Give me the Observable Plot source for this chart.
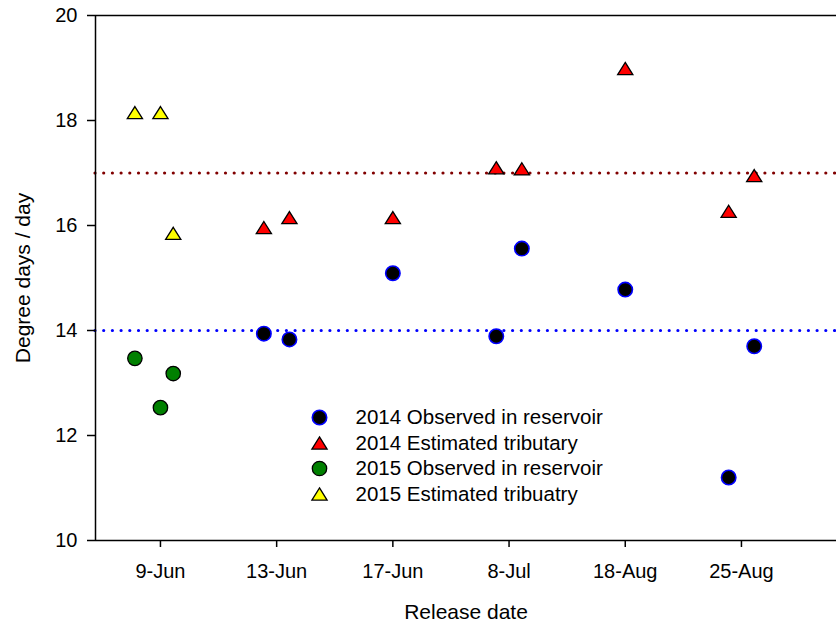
<!DOCTYPE html>
<html>
<head>
<meta charset="utf-8">
<script src="https://cdn.jsdelivr.net/npm/d3@7"></script>
<script src="https://cdn.jsdelivr.net/npm/@observablehq/plot@0.6"></script>
<style>
  html, body { margin: 0; padding: 0; background: #fff; }
  #chart svg { display: block; }
</style>
</head>
<body>
<div id="chart"></div>
<script>
// Release dates (category axis positions 1..6)
const categories = ["9-Jun", "13-Jun", "17-Jun", "8-Jul", "18-Aug", "25-Aug"];
const categoryTicks = [1, 2, 3, 4, 5, 6];
const yTicks = [10, 12, 14, 16, 18, 20];

// 2014 releases: observed in reservoir / estimated tributary (degree days per day)
const pos2014 = [1.89, 2.11, 3, 3.89, 4.11, 5, 5.89, 6.11];
const obs2014 = [13.94, 13.83, 15.09, 13.89, 15.56, 14.78, 11.2, 13.70];
const est2014 = [15.96, 16.15, 16.15, 17.10, 17.08, 18.99, 16.27, 16.95];

// 2015 releases
const pos2015 = [0.78, 1, 1.11];
const obs2015 = [13.47, 12.53, 13.18];
const est2015 = [18.15, 18.15, 15.85];

// Reference levels
const upperRef = [17];
const lowerRef = [14];

const legendLabels = [
  "2014 Observed in reservoir",
  "2014 Estimated tributary",
  "2015 Observed in reservoir",
  "2015 Estimated tribuatry"
];

const font = "'Liberation Sans', Arial, Helvetica, sans-serif";

// Triangle centred on its bounding box
const triangle = {
  draw(context, size) {
    const r = Math.sqrt(size / Math.PI);
    const h = r * 1.6;
    context.moveTo(0, -h / 2);
    context.lineTo(r, h / 2);
    context.lineTo(-r, h / 2);
    context.closePath();
  }
};

const series = [
  {label: legendLabels[0], xs: pos2014, ys: obs2014, symbol: "circle", fill: "#000000", stroke: "#0000ff", strokeWidth: 1.6, r: 7.2},
  {label: legendLabels[1], xs: pos2014, ys: est2014, symbol: triangle, fill: "#ff0000", stroke: "#000000", strokeWidth: 1.3, r: 7.6},
  {label: legendLabels[2], xs: pos2015, ys: obs2015, symbol: "circle", fill: "#008000", stroke: "#000000", strokeWidth: 1.3, r: 7.2},
  {label: legendLabels[3], xs: pos2015, ys: est2015, symbol: triangle, fill: "#ffff00", stroke: "#000000", strokeWidth: 1.3, r: 7.6}
];

const pointMarks = series.map(s =>
  Plot.dot(s.xs.map((x, i) => ({x, y: s.ys[i]})), {
    x: "x", y: "y", r: s.r, symbol: s.symbol,
    fill: s.fill, stroke: s.stroke, strokeWidth: s.strokeWidth
  })
);

const legendMarks = series.flatMap((s, i) => [
  Plot.dot([s], {
    frameAnchor: "top-left", dx: 224, dy: 402 + i * 25.5,
    r: s.r, symbol: s.symbol, fill: s.fill, stroke: s.stroke, strokeWidth: s.strokeWidth
  }),
  Plot.text([s], {
    frameAnchor: "top-left", dx: 260, dy: 402 + i * 25.5,
    text: d => d.label, textAnchor: "start", lineAnchor: "middle", fontSize: 20.5, fill: "#000"
  })
]);

const dotted = {strokeWidth: 3.2, strokeDasharray: "0 8.7", strokeLinecap: "round"};

const chart = Plot.plot({
  width: 836,
  height: 628,
  marginLeft: 95,
  marginRight: 0,
  marginTop: 15,
  marginBottom: 88,
  style: {fontFamily: font, fontSize: "20px", color: "#000", background: "#fff"},
  x: {domain: [0.441, 6.818]},
  y: {domain: [10, 20]},
  marks: [
    Plot.ruleY(upperRef, {stroke: "#800000", ...dotted}),
    Plot.ruleY(lowerRef, {stroke: "#0000ff", ...dotted}),
    Plot.ruleY([20], {stroke: "#000", strokeWidth: 1.5}),
    Plot.ruleY([10], {stroke: "#000", strokeWidth: 1.5}),
    Plot.ruleX([0.441], {stroke: "#000", strokeWidth: 1.5}),
    Plot.axisY({ticks: yTicks, tickSize: 8, tickPadding: 10, fontSize: 20, label: null, strokeWidth: 1.5}),
    Plot.axisX({ticks: categoryTicks, tickSize: 7, tickPadding: 16, fontSize: 20, label: null, strokeWidth: 1.5,
      tickFormat: i => categories[i - 1]}),
    ...pointMarks,
    ...legendMarks,
    Plot.text(["Degree days / day"], {frameAnchor: "left", dx: -72, rotate: -90, textAnchor: "middle", lineAnchor: "middle", fontSize: 21, text: d => d}),
    Plot.text(["Release date"], {frameAnchor: "bottom", dy: 72, textAnchor: "middle", lineAnchor: "middle", fontSize: 21, text: d => d})
  ]
});

document.getElementById("chart").appendChild(chart);
</script>
</body>
</html>
